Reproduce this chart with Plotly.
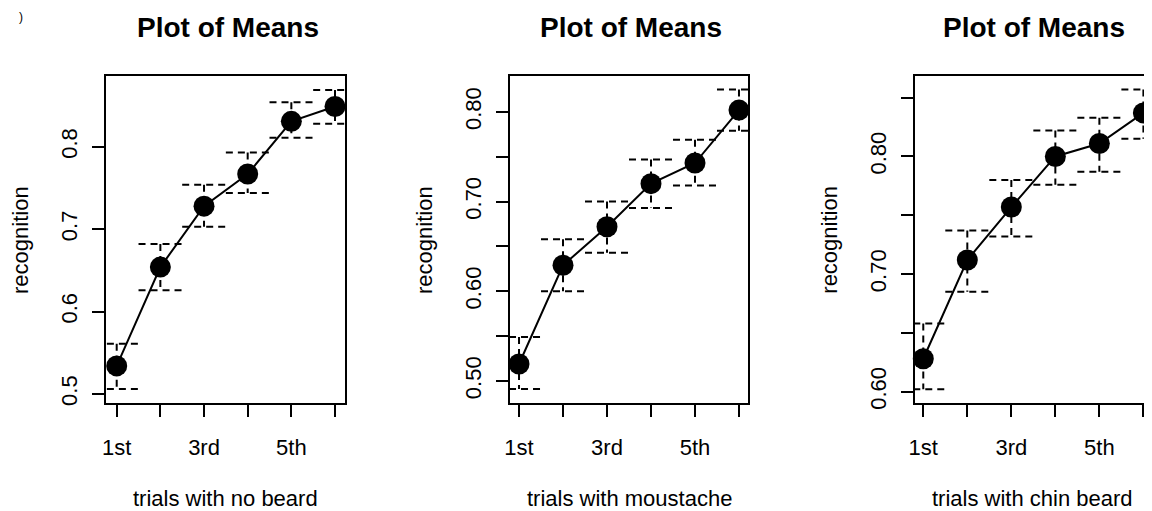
import plotly.graph_objects as go

# ---------------- data ----------------
trials = ["1st", "2nd", "3rd", "4th", "5th", "6th"]
trial_tick_labels = ["1st", "", "3rd", "", "5th", ""]

no_beard_mean = [0.534, 0.654, 0.728, 0.767, 0.831, 0.849]
no_beard_upper = [0.561, 0.682, 0.754, 0.793, 0.854, 0.869]
no_beard_lower = [0.506, 0.626, 0.703, 0.744, 0.811, 0.828]

moustache_mean = [0.519, 0.629, 0.672, 0.720, 0.743, 0.802]
moustache_upper = [0.549, 0.658, 0.700, 0.747, 0.769, 0.825]
moustache_lower = [0.491, 0.600, 0.643, 0.693, 0.718, 0.779]

chin_mean = [0.628, 0.712, 0.757, 0.800, 0.811, 0.837]
chin_upper = [0.658, 0.737, 0.780, 0.822, 0.833, 0.857]
chin_lower = [0.602, 0.685, 0.732, 0.776, 0.787, 0.815]

titles = ["Plot of Means", "Plot of Means", "Plot of Means"]
x_titles = ["trials with no beard", "trials with moustache", "trials with chin beard"]
y_title = "recognition"

y1_ticks = [0.5, 0.6, 0.7, 0.8]
y1_labels = ["0.5", "0.6", "0.7", "0.8"]
y2_ticks = [0.50, 0.55, 0.60, 0.65, 0.70, 0.75, 0.80]
y2_labels = ["0.50", "", "0.60", "", "0.70", "", "0.80"]
y3_ticks = [0.60, 0.65, 0.70, 0.75, 0.80, 0.85]
y3_labels = ["0.60", "", "0.70", "", "0.80", ""]

# ---------------- layout geometry (pixels) ----------------
W, H = 1152, 511
OFF = 8  # the page body margin shifts the figure by this many pixels


def px(xr):
    return (xr - OFF) / W


def py(yr):
    return 1 - (yr - OFF) / H


panels = [
    dict(mean=no_beard_mean, up=no_beard_upper, lo=no_beard_lower,
         left=106, right=345, xr=[0.755, 6.229], yr=[0.489, 0.886],
         yt=y1_ticks, yl=y1_labels),
    dict(mean=moustache_mean, up=moustache_upper, lo=moustache_lower,
         left=510, right=748, xr=[0.795, 6.205], yr=[0.4755, 0.840],
         yt=y2_ticks, yl=y2_labels),
    dict(mean=chin_mean, up=chin_upper, lo=chin_lower,
         left=914.7, right=1150, xr=[0.805, 6.15], yr=[0.5904, 0.8684],
         yt=y3_ticks, yl=y3_labels),
]
box_top, box_bottom = 76, 403

FONT = "Liberation Sans, Arial, Helvetica, sans-serif"
fig = go.Figure()
cap_half = 0.5
xpos = list(range(1, len(trials) + 1))

for k, p in enumerate(panels):
    xa = "x" if k == 0 else f"x{k+1}"
    ya = "y" if k == 0 else f"y{k+1}"
    # error bars (dashed)
    ex, ey = [], []
    for xi, u, l in zip(xpos, p["up"], p["lo"]):
        ex += [xi - cap_half, xi + cap_half, None, xi, xi, None, xi - cap_half, xi + cap_half, None]
        ey += [u, u, None, u, l, None, l, l, None]
    fig.add_trace(go.Scatter(x=ex, y=ey, mode="lines", xaxis=xa, yaxis=ya,
                             line=dict(color="black", width=2, dash="7px,5px"),
                             showlegend=False, hoverinfo="skip"))
    fig.add_trace(go.Scatter(x=xpos, y=p["mean"], mode="lines+markers", xaxis=xa, yaxis=ya,
                             line=dict(color="black", width=2),
                             marker=dict(color="black", size=21, symbol="circle"),
                             cliponaxis=False, showlegend=False))

    axis_common = dict(showline=True, linecolor="black", linewidth=2, mirror=True,
                       ticks="outside", ticklen=12, tickwidth=2, tickcolor="black",
                       showgrid=False, zeroline=False, automargin=False,
                       tickfont=dict(family=FONT, size=22, color="black"))
    xkey = "xaxis" if k == 0 else f"xaxis{k+1}"
    ykey = "yaxis" if k == 0 else f"yaxis{k+1}"
    fig.update_layout(**{
        xkey: dict(domain=[px(p["left"]), px(p["right"])], range=p["xr"], anchor=ya,
                   tickmode="array", tickvals=xpos, ticktext=trial_tick_labels,
                   ticklabelstandoff=12, **axis_common),
        ykey: dict(domain=[py(box_bottom), py(box_top)], range=p["yr"], anchor=xa,
                   tickmode="array", tickvals=p["yt"], ticktext=p["yl"], tickangle=-90,
                   ticklabelstandoff=6, **axis_common),
    })

    cx = (p["left"] + p["right"]) / 2
    fig.add_annotation(text=f"<b>{titles[k]}</b>", x=px(cx + 2), y=py(27),
                       xref="paper", yref="paper", showarrow=False,
                       xanchor="center", yanchor="middle",
                       font=dict(family=FONT, size=28, color="black"))
    fig.add_annotation(text=x_titles[k], x=px(cx), y=py(498),
                       xref="paper", yref="paper", showarrow=False,
                       xanchor="center", yanchor="middle",
                       font=dict(family=FONT, size=22, color="black"))
    fig.add_annotation(text=y_title, x=px(p["left"] - 86), y=py(240),
                       xref="paper", yref="paper", showarrow=False, textangle=-90,
                       xanchor="center", yanchor="middle",
                       font=dict(family=FONT, size=22, color="black"))

fig.add_annotation(text=")", x=px(21), y=py(8), xref="paper", yref="paper",
                   showarrow=False, xanchor="center", yanchor="top",
                   font=dict(family=FONT, size=12, color="black"))

fig.update_layout(width=W, height=H, margin=dict(l=0, r=0, t=0, b=0),
                  paper_bgcolor="white", plot_bgcolor="white", showlegend=False)

fig.write_html("out.html")
